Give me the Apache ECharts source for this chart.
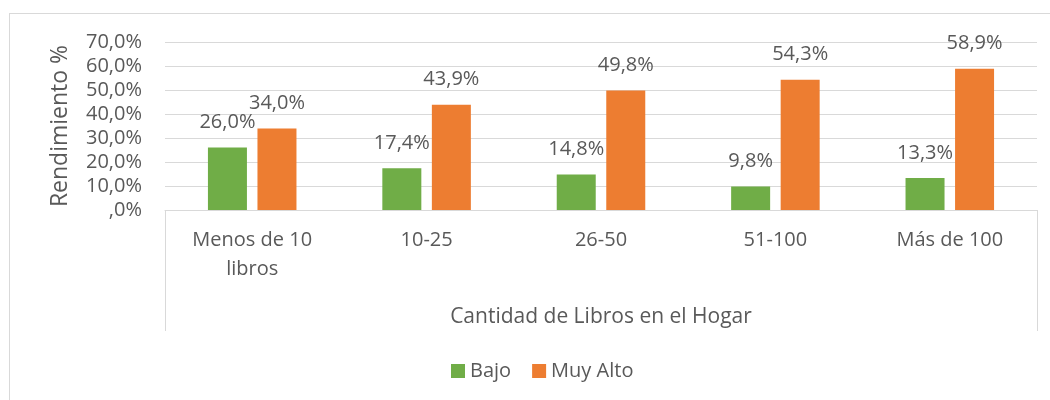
<!DOCTYPE html>
<html>
<head>
<meta charset="utf-8">
<script src="https://cdn.jsdelivr.net/npm/echarts@6/dist/echarts.min.js"></script>
<style>
  html, body { margin: 0; padding: 0; background: #fff; }
  #frame { position: absolute; left: 9px; top: 13px; width: 1100px; height: 500px; border: 1px solid #d9d9d9; }
  #main { position: absolute; left: 0; top: 0; width: 1050px; height: 400px; }
</style>
</head>
<body>
<div id="frame"></div>
<div id="main"></div>
<script>
const categories = ['Menos de 10\nlibros', '10-25', '26-50', '51-100', 'Más de 100']
const bajo = [26.0, 17.4, 14.8, 9.8, 13.3]
const muyAlto = [34.0, 43.9, 49.8, 54.3, 58.9]
const seriesNames = ['Bajo', 'Muy Alto']

const font = 'Open Sans'
const textColor = '#595959'
const lineColor = '#d9d9d9'

const pct = v => (v === 0 ? ',0' : v.toFixed(1).replace('.', ',')) + '%'

const labelStyle = {
  show: true,
  position: 'top',
  distance: 15,
  fontFamily: font,
  fontSize: 20,
  color: textColor,
  formatter: p => pct(p.value)
}

const myChart = echarts.init(document.getElementById('main'))
myChart.setOption({
  animation: false,
  textStyle: { fontFamily: font },
  grid: { left: 165, right: 13, top: 42, bottom: 190, containLabel: false },
  legend: {
    data: seriesNames,
    left: 446,
    top: 356,
    icon: 'rect',
    itemWidth: 14,
    itemHeight: 14,
    itemGap: 21,
    textStyle: { fontFamily: font, fontSize: 20, color: textColor }
  },
  xAxis: {
    type: 'category',
    data: categories,
    name: 'Cantidad de Libros en el Hogar',
    nameLocation: 'middle',
    nameGap: 97,
    nameTextStyle: { fontFamily: font, fontSize: 21, color: textColor },
    axisLine: { lineStyle: { color: lineColor, width: 1 } },
    axisTick: {
      show: true,
      length: 121,
      interval: i => i === 0,
      lineStyle: { color: lineColor, width: 1 }
    },
    axisLabel: {
      fontFamily: font,
      fontSize: 20,
      color: textColor,
      margin: 16,
      lineHeight: 29,
      interval: 0
    }
  },
  yAxis: {
    type: 'value',
    min: 0,
    max: 70,
    interval: 10,
    name: 'Rendimiento %',
    nameLocation: 'middle',
    nameGap: 93,
    nameTextStyle: { fontFamily: font, fontSize: 23, color: textColor },
    axisLine: { show: false },
    axisTick: { show: false },
    splitLine: { lineStyle: { color: lineColor, width: 1 } },
    axisLabel: {
      fontFamily: font,
      fontSize: 20,
      color: textColor,
      margin: 23,
      formatter: v => pct(v)
    }
  },
  series: [
    {
      name: seriesNames[0],
      type: 'bar',
      data: bajo,
      barWidth: 39,
      barGap: '27%',
      itemStyle: { color: '#70ad47' },
      label: labelStyle
    },
    {
      name: seriesNames[1],
      type: 'bar',
      data: muyAlto,
      barWidth: 39,
      barGap: '27%',
      itemStyle: { color: '#ed7d31' },
      label: labelStyle
    }
  ]
})
</script>
</body>
</html>
